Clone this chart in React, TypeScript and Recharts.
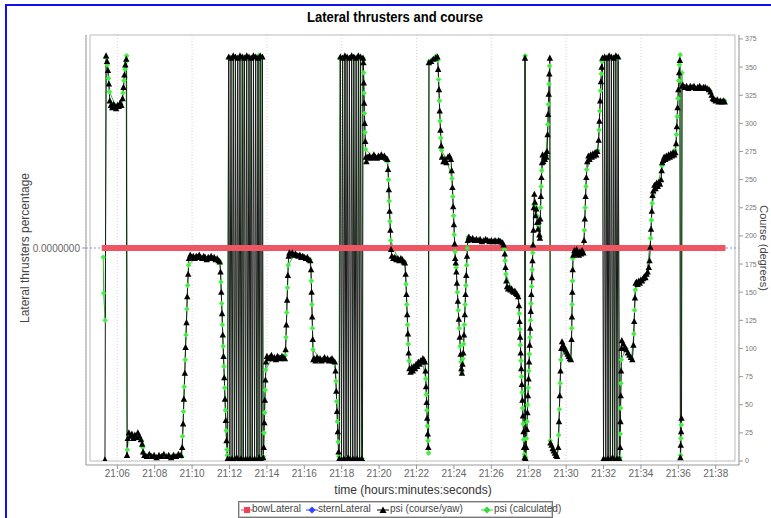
import React from 'react';
import { LineChart, Line, XAxis, YAxis, CartesianGrid, ReferenceArea, ReferenceLine } from 'recharts';

// time in minutes after 21:00
const timeTicks = [6, 8, 10, 12, 14, 16, 18, 20, 22, 24, 26, 28, 30, 32, 34, 36, 38];
const courseTicks = [0, 25, 50, 75, 100, 125, 150, 175, 200, 225, 250, 275, 300, 325, 350, 375];
const thrusterTicks = [0];
const timeDomain: [number, number] = [4.54, 39.03];
const courseDomain: [number, number] = [0, 378.5];
const thrusterDomain: [number, number] = [-1, 1];

const bowLateral: number[][] = [[5.17, 0], [38.52, 0]];
const sternLateral: number[][] = [[5.17, 0], [38.52, 0]];

const psiCourse: number[][] = [
  [5.34,1],[5.40,360],[5.45,355],[5.50,347],[5.55,335],[5.60,320],
  [5.66,316],[5.73,314],[5.80,317],[5.87,315],[5.94,313],[6.01,316],[6.08,315],[6.15,318],[6.22,316],
  [6.28,322],[6.33,332],[6.38,343],[6.43,352],[6.48,357],
  [6.52,5],[6.56,20],[6.62,25],[6.70,22],[6.78,24],[6.86,20],[6.94,23],[7.02,21],[7.10,25],[7.18,22],[7.26,19],[7.33,15],[7.38,8],[7.45,5],
  [7.58,4],[7.71,6],[7.84,4],[7.97,5],[8.10,3],[8.23,5],[8.36,4],[8.49,6],[8.62,4],[8.75,5],[8.88,3],[9.01,5],[9.14,4],[9.27,6],[9.40,5],
  [9.47,12],[9.52,33],[9.56,55],[9.61,78],[9.65,101],[9.70,123],[9.74,146],[9.79,166],[9.83,180],
  [9.90,183],[9.98,181],[10.06,182],[10.14,180],[10.22,182],[10.30,181],[10.38,183],[10.46,181],[10.54,180],[10.62,182],[10.70,181],[10.78,179],[10.86,181],[10.94,180],[11.02,182],[11.10,180],[11.18,181],[11.26,179],[11.34,180],[11.42,178],[11.48,177],
  [11.52,168],[11.56,150],[11.60,131],[11.64,112],[11.68,93],[11.72,74],[11.76,55],[11.80,36],[11.84,18],
  [11.90,2],[11.96,359],[12.02,1],[12.08,358],[12.14,2],[12.20,360],[12.26,1],[12.32,359],[12.38,3],[12.44,358],[12.50,1],[12.56,360],[12.62,2],[12.68,359],[12.74,1],[12.80,358],[12.86,2],[12.92,360],[12.98,1],[13.04,359],[13.10,2],[13.16,358],[13.22,1],[13.28,360],[13.34,2],[13.40,359],[13.46,1],[13.52,358],[13.58,3],[13.64,360],[13.70,1],[13.76,359],[13.80,3],
  [13.83,12],[13.86,34],[13.89,54],[13.92,72],[13.95,88],
  [14.00,93],[14.08,91],[14.16,92],[14.24,94],[14.32,91],[14.40,92],[14.48,90],[14.56,93],[14.64,92],[14.72,91],[14.80,93],[14.88,92],[14.96,91],
  [15.00,99],[15.04,121],[15.08,143],[15.12,165],[15.16,182],
  [15.20,185],[15.28,184],[15.36,185],[15.44,183],[15.52,184],[15.60,183],[15.68,182],[15.76,183],[15.84,181],[15.92,182],[16.00,181],[16.08,180],[16.16,181],[16.24,179],[16.32,178],
  [16.36,170],[16.39,150],[16.42,128],[16.45,108],[16.48,90],
  [16.52,91],[16.60,89],[16.68,92],[16.76,90],[16.84,91],[16.92,89],[17.00,90],[17.08,92],[17.16,90],[17.24,91],[17.32,89],[17.40,90],[17.48,91],[17.56,89],[17.63,88],
  [17.67,80],[17.71,62],[17.75,44],[17.79,26],[17.83,8],
  [17.87,2],[17.93,359],[17.99,1],[18.05,358],[18.11,2],[18.17,360],[18.23,1],[18.29,359],[18.35,3],[18.41,358],[18.47,1],[18.53,360],[18.59,2],[18.65,359],[18.71,1],[18.77,358],[18.83,2],[18.89,360],[18.95,1],[19.01,359],[19.07,2],[19.11,1],[19.14,358],
  [19.16,354],[19.18,336],[19.20,318],[19.23,300],[19.26,284],[19.29,270],
  [19.32,266],[19.40,270],[19.48,271],[19.56,269],[19.64,270],[19.72,272],[19.80,270],[19.88,269],[19.96,271],[20.04,270],[20.12,272],[20.20,270],[20.28,271],[20.36,269],[20.44,268],
  [20.48,259],[20.52,241],[20.56,222],[20.60,205],[20.64,188],
  [20.68,182],[20.76,180],[20.84,181],[20.92,179],[21.00,180],[21.08,178],[21.16,180],[21.24,179],[21.32,177],[21.38,176],
  [21.42,166],[21.46,148],[21.50,130],[21.54,113],[21.58,96],
  [21.62,82],[21.68,79],[21.74,83],[21.80,80],[21.86,84],[21.92,82],[21.98,86],[22.04,84],[22.10,88],[22.16,86],[22.22,89],[22.28,88],[22.34,91],[22.40,90],[22.45,88],
  [22.48,80],[22.51,66],[22.54,52],[22.57,38],[22.60,24],[22.63,12],
  [22.66,354],[22.78,355],[22.90,357],[23.02,358],[23.12,359],
  [23.16,348],[23.20,330],[23.24,311],[23.28,294],[23.32,280],
  [23.36,270],[23.44,266],[23.52,268],[23.60,265],[23.68,270],[23.76,271],[23.84,268],
  [23.88,258],[23.92,243],[23.96,226],[24.00,210],[24.04,193],[24.07,180],
  [24.10,176],[24.13,168],
  [24.16,158],[24.21,142],[24.26,126],[24.31,110],[24.36,95],[24.40,82],[24.43,78],
  [24.46,86],[24.50,96],[24.54,112],[24.58,130],[24.62,148],[24.66,165],[24.70,182],[24.74,196],
  [24.80,199],[24.90,197],[25.00,198],[25.10,196],[25.20,197],[25.30,196],[25.40,197],[25.50,195],[25.60,196],[25.70,197],[25.80,196],[25.90,195],[26.00,196],[26.10,195],[26.20,196],[26.30,195],[26.40,196],[26.50,195],[26.60,194],[26.66,192],
  [26.72,184],[26.76,172],[26.80,160],
  [26.84,155],[26.90,153],[26.96,154],[27.02,152],[27.08,153],[27.14,151],[27.20,150],[27.26,151],[27.32,149],[27.38,148],[27.44,146],
  [27.48,138],[27.51,124],[27.54,110],[27.57,96],[27.60,82],[27.63,68],[27.66,54],[27.69,40],[27.72,26],[27.75,12],
  [27.78,3],[27.80,358],[27.83,2],
  [27.87,12],[27.90,28],[27.93,43],[27.96,58],[27.99,73],[28.02,88],[28.05,103],[28.08,118],[28.11,133],[28.14,148],[28.17,163],[28.20,178],[28.23,192],
  [28.25,205],[28.27,225],[28.30,237],[28.33,230],[28.37,218],[28.41,224],[28.45,212],[28.49,206],[28.53,213],[28.57,201],[28.60,198],
  [28.62,215],[28.65,235],[28.68,252],[28.71,265],
  [28.74,272],[28.78,266],[28.82,270],[28.86,268],[28.90,273],[28.94,270],[28.98,275],
  [29.01,290],[29.04,308],[29.07,326],[29.10,344],[29.13,358],
  [29.16,16],[29.22,14],[29.28,11],[29.34,9],[29.40,7],[29.46,5],[29.52,4],
  [29.58,12],[29.62,35],[29.66,58],[29.70,80],[29.74,100],
  [29.78,106],[29.84,103],[29.90,101],[29.96,99],[30.02,97],[30.08,95],[30.14,93],[30.20,91],[30.26,90],
  [30.29,108],[30.31,128],[30.33,150],[30.35,170],
  [30.38,183],[30.44,187],[30.50,184],[30.56,188],[30.62,185],[30.68,183],[30.74,186],[30.80,184],[30.86,187],[30.92,185],
  [30.96,196],[31.00,215],[31.04,235],[31.08,252],
  [31.13,266],[31.19,271],[31.25,268],[31.31,272],[31.37,270],[31.43,273],[31.49,271],[31.55,274],[31.61,272],[31.67,275],
  [31.74,285],[31.78,302],[31.82,320],[31.86,337],[31.90,350],[31.94,358],
  [32.00,2],[32.06,359],[32.12,1],[32.18,358],[32.24,2],[32.30,360],[32.36,1],[32.42,359],[32.48,3],[32.54,358],[32.60,1],[32.66,360],[32.72,2],[32.78,359],[32.85,2],
  [32.89,12],[32.905,35],[32.92,58],[32.94,80],[32.96,100],
  [32.98,107],[33.06,104],[33.14,101],[33.22,99],[33.30,96],[33.38,94],[33.46,92],[33.54,90],
  [33.60,103],[33.64,124],[33.68,145],[33.72,158],
  [33.76,159],[33.82,157],[33.88,160],[33.94,158],[34.00,161],[34.06,160],[34.12,162],[34.18,164],[34.24,163],[34.30,166],[34.36,168],[34.42,172],[34.46,178],
  [34.50,190],[34.54,206],[34.58,222],[34.62,236],
  [34.66,240],[34.72,245],[34.78,242],[34.84,247],[34.90,244],[34.96,248],[35.02,246],[35.08,250],
  [35.11,258],[35.14,265],
  [35.18,267],[35.24,270],[35.30,268],[35.36,271],[35.42,269],[35.48,272],[35.54,270],[35.60,273],[35.66,271],[35.72,274],[35.78,272],[35.84,274],
  [35.88,282],[35.92,297],[35.96,314],[36.00,330],[36.04,345],[36.08,356],
  [36.11,3],[36.13,14],[36.15,26],[36.17,38],
  [36.20,333],[36.24,334],[36.34,332],[36.44,333],[36.54,331],[36.64,333],[36.74,332],[36.84,333],[36.94,331],[37.04,332],[37.14,333],[37.24,331],[37.34,332],[37.44,332],[37.54,331],[37.64,330],[37.72,328],[37.78,325],[37.84,322],
  [37.92,321],[38.00,320],[38.08,321],[38.16,319],[38.24,320],[38.32,319],[38.40,320],[38.48,319],
];

const psiCalculated: number[][] = [
  [5.25,181],[5.27,149],[5.35,125],[5.41,358],[5.47,352],[5.53,340],[5.58,328],[5.90,316],[6.20,317],[6.30,327],[6.36,338],[6.41,348],[6.46,355],[6.50,360],[6.54,10],[6.60,22],[6.90,22],[7.30,18],[7.36,12],[7.42,6],[7.80,5],[8.40,5],[9.00,5],
  [9.45,4],[9.49,22],[9.54,44],[9.58,66],[9.63,90],[9.67,112],[9.72,135],[9.76,156],[9.81,174],
  [10.20,181],[10.60,181],[11.00,181],[11.45,178],
  [11.50,176],[11.54,159],[11.58,140],[11.62,121],[11.66,102],[11.70,84],[11.74,65],[11.78,45],[11.82,27],[11.86,10],
  [11.88,5],[11.95,358],[12.30,359],[12.36,2],[12.70,1],[12.76,359],[13.10,358],[13.16,1],[13.50,2],[13.56,360],[13.72,359],[13.79,2],
  [13.81,4],[13.845,25],[13.875,43],[13.905,63],[13.935,81],
  [14.30,92],[14.70,92],[14.98,94],
  [15.02,110],[15.06,132],[15.10,154],[15.14,174],
  [15.50,184],[15.90,182],[16.30,179],
  [16.375,160],[16.405,139],[16.435,118],[16.465,99],
  [16.90,90],[17.30,90],[17.62,87],
  [17.69,71],[17.73,53],[17.77,35],[17.81,17],[17.85,4],
  [17.90,358],[18.20,359],[18.26,2],[18.56,1],[18.62,359],[18.92,358],[18.98,1],[19.08,2],[19.13,358],[19.15,357],
  [19.17,345],[19.19,327],[19.215,309],[19.245,292],[19.275,277],
  [19.70,270],[20.10,271],[20.45,266],
  [20.50,250],[20.54,231],[20.58,213],[20.62,196],
  [21.00,180],[21.36,177],
  [21.44,157],[21.48,139],[21.52,121],[21.56,104],[21.60,89],
  [21.90,83],[22.30,89],
  [22.495,73],[22.525,59],[22.555,45],[22.585,31],[22.615,18],[22.645,7],
  [22.68,355],[22.86,357],[23.06,360],
  [23.14,356],[23.18,339],[23.22,320],[23.26,302],[23.30,287],[23.34,276],
  [23.60,268],
  [23.90,251],[23.94,235],[23.98,218],[24.02,201],[24.06,186],
  [24.12,172],[24.185,150],[24.235,134],[24.285,118],[24.335,102],[24.38,88],[24.42,79],
  [24.48,91],[24.52,104],[24.56,121],[24.60,139],[24.64,156],[24.68,174],[24.72,189],[24.76,199],
  [25.20,197],[25.80,196],[26.40,196],
  [26.70,188],[26.74,178],[26.78,166],
  [27.10,152],[27.42,147],
  [27.495,131],[27.525,117],[27.555,103],[27.585,89],[27.615,75],[27.645,61],[27.675,47],[27.705,33],[27.735,19],[27.765,6],
  [27.79,4],[27.81,360],[27.84,3],
  [27.885,20],[27.915,35],[27.945,50],[27.975,65],[28.005,80],[28.035,95],[28.065,110],[28.095,125],[28.125,140],[28.155,155],[28.185,170],[28.215,185],
  [28.28,228],[28.35,226],[28.43,218],[28.51,209],[28.58,200],
  [28.635,225],[28.665,244],[28.695,258],
  [28.80,268],[28.92,271],
  [29.025,299],[29.055,317],[29.085,335],[29.115,351],
  [29.15,18],[29.31,10],[29.49,5],
  [29.60,23],[29.64,46],[29.68,69],[29.72,90],
  [29.93,100],[30.23,91],
  [30.30,118],[30.32,139],[30.34,160],[30.36,180],
  [30.60,185],[30.90,186],
  [30.98,205],[31.02,225],[31.06,244],[31.10,259],
  [31.40,271],[31.70,276],
  [31.76,294],[31.80,311],[31.84,329],[31.88,344],[31.92,355],
  [31.96,358],[32.20,359],[32.26,1],[32.50,2],[32.56,359],[32.78,358],[32.84,2],[32.88,3],
  [32.895,24],[32.91,47],[32.93,69],[32.95,90],
  [33.20,100],[33.50,91],
  [33.62,113],[33.66,134],[33.70,152],
  [34.00,160],[34.30,165],
  [34.52,198],[34.56,214],[34.60,229],
  [34.90,245],
  [35.125,262],
  [35.50,271],[35.82,276],
  [35.90,290],[35.94,306],[35.98,322],[36.02,338],[36.06,352],[36.10,361],
  [36.12,5],[36.14,20],[36.16,32],[36.19,345],[36.21,333],
  [36.60,332],[37.20,332],[37.70,329],[38.00,321],[38.48,320],
];

const toRows = (pts: number[][]) =>
  pts.map(([t, v]) => ({ t, v })).sort((a, b) => a.t - b.t);

const bowRows = toRows(bowLateral);
const sternRows = toRows(sternLateral);
const courseRows = toRows(psiCourse);
const calcRows = toRows(psiCalculated);

const FONT = "'Liberation Sans', Arial, sans-serif";

const TriangleDot = (p: any) => {
  const { cx, cy, index } = p;
  if (cx == null || cy == null) return <g key={`tb${index}`} />;
  return (
    <path
      key={`tb${index}`}
      d={`M${cx},${cy - 3.5}L${cx + 3.2},${cy + 2.6}L${cx - 3.2},${cy + 2.6}Z`}
      fill="#000"
    />
  );
};

const DiamondDot = (p: any) => {
  const { cx, cy, index } = p;
  if (cx == null || cy == null) return <g key={`dg${index}`} />;
  return (
    <path
      key={`dg${index}`}
      d={`M${cx},${cy - 2.8}L${cx + 2.8},${cy}L${cx},${cy + 2.8}L${cx - 2.8},${cy}Z`}
      fill="#44ee44"
    />
  );
};

const pad2 = (v: number) => String(v).padStart(2, '0');

const legendItems = [
  { label: 'bowLateral', color: '#ee4455', shape: 'square', iconX: 241, textX: 252 },
  { label: 'sternLateral', color: '#3344ff', shape: 'diamond', iconX: 306, textX: 318 },
  { label: 'psi (course/yaw)', color: '#000000', shape: 'triangle', iconX: 377, textX: 390 },
  { label: 'psi (calculated)', color: '#33dd33', shape: 'diamond', iconX: 481, textX: 494 },
];

const LegendIcon = ({ color, shape }: { color: string; shape: string }) => (
  <svg width={12} height={10} style={{ display: 'block' }}>
    <line x1={0} y1={5} x2={12} y2={5} stroke={color} strokeWidth={1} />
    {shape === 'square' && <rect x={3} y={2} width={6} height={6} fill={color} />}
    {shape === 'diamond' && <path d="M6,1.5L9.5,5L6,8.5L2.5,5Z" fill={color} />}
    {shape === 'triangle' && <path d="M6,1.5L9.5,8L2.5,8Z" fill={color} />}
  </svg>
);

export default function App() {
  return (
    <div style={{ position: 'absolute', left: 0, top: 0, width: 771, height: 518, background: '#fff', overflow: 'hidden', fontFamily: FONT }}>
      <div style={{ position: 'absolute', left: 5, top: 4, width: 766, height: 2, background: '#1010f0' }} />
      <div style={{ position: 'absolute', left: 5, top: 4, width: 2, height: 514, background: '#1010f0' }} />
      <div style={{ position: 'absolute', left: 0, top: 0 }}>
        <LineChart width={771} height={518} margin={{ top: 35, right: 0, bottom: 33, left: 0 }}>
          <CartesianGrid xAxisId="t" yAxisId="left" horizontal={false} stroke="#d4d4d4" strokeDasharray="1 2" />
          <XAxis
            xAxisId="t"
            type="number"
            dataKey="t"
            domain={timeDomain}
            ticks={timeTicks}
            allowDataOverflow
            tickFormatter={(v: number) => `21:${pad2(v)}`}
            padding={{ left: 4, right: 4 }}
            height={20}
            tickSize={4}
            tickMargin={1}
            axisLine={{ stroke: '#999' }}
            tickLine={{ stroke: '#999' }}
            tick={{ fontSize: 10, fill: '#666', fontFamily: FONT }}
          />
          <YAxis
            yAxisId="left"
            type="number"
            domain={thrusterDomain}
            ticks={thrusterTicks}
            allowDataOverflow
            tickFormatter={() => '0.0000000'}
            width={86}
            padding={{ top: 0, bottom: 4 }}
            tickSize={4}
            tickMargin={2}
            axisLine={{ stroke: '#999' }}
            tickLine={{ stroke: '#999' }}
            tick={{ fontSize: 10, fill: '#666', fontFamily: FONT }}
          />
          <YAxis
            yAxisId="right"
            orientation="right"
            type="number"
            domain={courseDomain}
            ticks={courseTicks}
            allowDataOverflow
            width={32}
            padding={{ top: 0, bottom: 4 }}
            tickSize={4}
            tickMargin={2}
            axisLine={{ stroke: '#999' }}
            tickLine={{ stroke: '#999' }}
            tick={{ fontSize: 7, fill: '#777', fontFamily: FONT }}
          />
          <ReferenceArea
            xAxisId="t"
            yAxisId="left"
            x1={timeDomain[0]}
            x2={timeDomain[1]}
            y1={thrusterDomain[0]}
            y2={thrusterDomain[1]}
            fill="none"
            fillOpacity={0}
            stroke="#bbbbbb"
            strokeWidth={1}
            ifOverflow="visible"
          />
          <ReferenceLine xAxisId="t" yAxisId="left" y={0} stroke="#8c8cff" strokeDasharray="2 2" />
          <Line
            xAxisId="t"
            yAxisId="right"
            data={calcRows}
            dataKey="v"
            name="psi (calculated)"
            stroke="#33bb33"
            strokeWidth={1}
            dot={DiamondDot}
            activeDot={false}
            isAnimationActive={false}
          />
          <Line
            xAxisId="t"
            yAxisId="right"
            data={courseRows}
            dataKey="v"
            name="psi (course/yaw)"
            stroke="#1a1a1a"
            strokeWidth={1}
            dot={TriangleDot}
            activeDot={false}
            isAnimationActive={false}
          />
          <Line
            xAxisId="t"
            yAxisId="left"
            data={sternRows}
            dataKey="v"
            name="sternLateral"
            stroke="#3344ff"
            strokeWidth={1}
            dot={false}
            activeDot={false}
            isAnimationActive={false}
          />
          <Line
            xAxisId="t"
            yAxisId="left"
            data={bowRows}
            dataKey="v"
            name="bowLateral"
            stroke="#ef5664"
            strokeWidth={6}
            dot={false}
            activeDot={false}
            isAnimationActive={false}
          />
        </LineChart>
      </div>
      <svg width={771} height={518} style={{ position: 'absolute', left: 0, top: 0, pointerEvents: 'none' }}>
        <text x={395} y={22} textAnchor="middle" fontFamily={FONT} fontWeight="bold" fontSize={14} fill="#000" textLength={176} lengthAdjust="spacingAndGlyphs">
          Lateral thrusters and course
        </text>
        <text x={0} y={0} transform="translate(29,248) rotate(-90)" textAnchor="middle" fontFamily={FONT} fontSize={12} fill="#444">
          Lateral thrusters percentage
        </text>
        <text x={0} y={0} transform="translate(764,248) rotate(90)" textAnchor="middle" dominantBaseline="central" fontFamily={FONT} fontSize={11} fill="#444">
          Course (degrees)
        </text>
        <text x={413} y={494} textAnchor="middle" fontFamily={FONT} fontSize={12} fill="#333">
          time (hours:minutes:seconds)
        </text>
      </svg>
      <div style={{ position: 'absolute', left: 238, top: 501, width: 315, height: 17, border: '1px solid #777', boxShadow: 'inset 0 0 0 1px #c8c8c8', boxSizing: 'border-box' }} />
      {legendItems.map((it) => (
        <React.Fragment key={it.label}>
          <div style={{ position: 'absolute', left: it.iconX, top: 505 }}>
            <LegendIcon color={it.color} shape={it.shape} />
          </div>
          <div style={{ position: 'absolute', left: it.textX, top: 503, fontSize: 10, lineHeight: '12px', color: '#444', whiteSpace: 'nowrap' }}>
            {it.label}
          </div>
        </React.Fragment>
      ))}
    </div>
  );
}
